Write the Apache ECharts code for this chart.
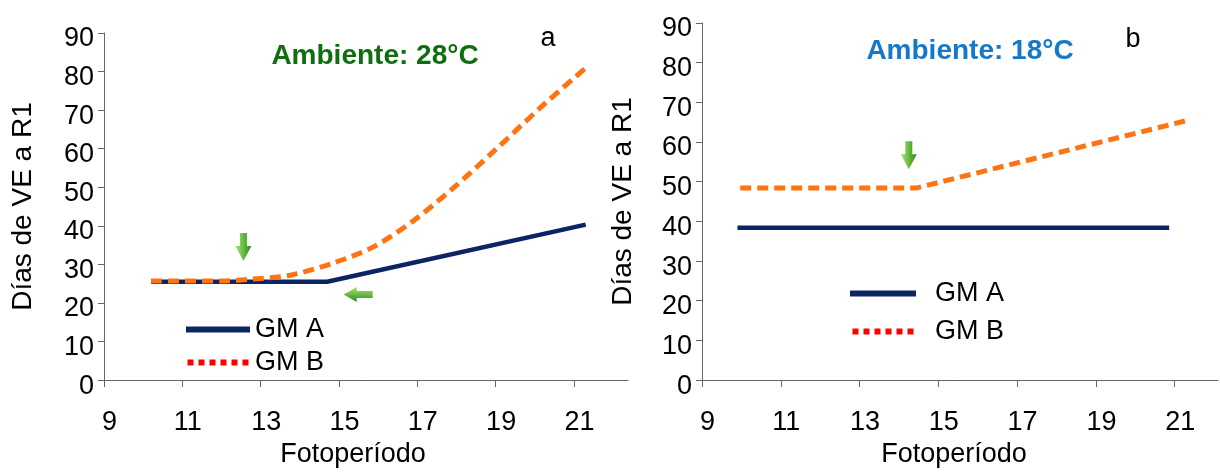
<!DOCTYPE html>
<html>
<head>
<meta charset="utf-8">
<script src="https://cdn.jsdelivr.net/npm/echarts@6/dist/echarts.min.js"></script>
<style>
  html, body { margin: 0; padding: 0; background: #fff; }
  #chart { width: 1220px; height: 473px; }
</style>
</head>
<body>
<div id="chart"></div>
<script>
// panel a (28 °C)
const gmaA_x = [10.2, 14.7, 21.3];
const gmaA_y = [25.5, 25.5, 40.3];
const gmbA_x = [10.2, 12.0, 12.82, 13.76, 14.87, 15.89, 16.91, 17.93, 18.95, 20.15, 21.34];
const gmbA_y = [25.7, 25.7, 26.2, 27.2, 30.4, 34.6, 41.4, 49.9, 59.3, 70.7, 81.3];

// panel b (18 °C)
const gmaB_x = [9.9, 20.86];
const gmaB_y = [38.4, 38.4];
const gmbB_x = [9.97, 14.44, 21.26];
const gmbB_y = [48.4, 48.4, 65.3];

// arrows (data coords)
const arrowDownA = [12.56, 34.5];
const arrowLeftA = [15.49, 22.2];
const arrowDownB = [14.25, 56.7];

const xTicks = [9, 11, 13, 15, 17, 19, 21];
const seriesNames = ['GM A', 'GM B'];
const titles = ['Ambiente: 28°C', 'Ambiente: 18°C'];
const panelTags = ['a', 'b'];

const font = 'Liberation Sans, Arial, sans-serif';
const navy = '#0b2462';
const orange = '#ff7312';
const axisGray = '#666';

const pairs = (xs, ys) => xs.map((x, i) => [x, ys[i]]);

const downArrow = 'path://M4.5,0 L11.5,0 L11.5,13 L16,13 L8,28 L0,13 L4.5,13 Z';
const leftArrow = 'path://M0,7.5 L13,0 L13,4 L29,4 L29,11 L13,11 L13,15 Z';
const greenH = {
    type: 'linear', x: 0, y: 0, x2: 1, y2: 0,
    colorStops: [{ offset: 0, color: '#a6e876' }, { offset: 1, color: '#2c8c12' }],
};
const greenV = {
    type: 'linear', x: 0, y: 0, x2: 0, y2: 1,
    colorStops: [{ offset: 0, color: '#a6e876' }, { offset: 1, color: '#2c8c12' }],
};

const dottedIcon = 'path://M0,0h6v6h-6z M11,0h6v6h-6z M22,0h6v6h-6z M33,0h6v6h-6z M44,0h6v6h-6z M55,0h6v6h-6z';
const legendData = [
    { name: seriesNames[0], icon: 'rect', itemStyle: { color: navy, borderWidth: 0 } },
    { name: seriesNames[1], icon: dottedIcon, itemStyle: { color: '#ff0000', borderWidth: 0 } },
];

const xAxisBase = (gridIndex, max, namePad) => ({
    type: 'value',
    gridIndex,
    min: 9,
    max,
    name: 'Fotoperíodo',
    nameLocation: 'middle',
    nameGap: 59,
    nameTextStyle: { color: '#000', fontFamily: font, fontSize: 27, padding: namePad },
    axisLine: { onZero: false, lineStyle: { color: axisGray, width: 1 } },
    axisTick: { customValues: xTicks, length: 7, lineStyle: { color: axisGray } },
    axisLabel: {
        customValues: xTicks, color: '#000', fontFamily: font, fontSize: 27,
        margin: 29, padding: [0, 0, 0, 11],
    },
    splitLine: { show: false },
});

const yAxisBase = (gridIndex, nameGap) => ({
    type: 'value',
    gridIndex,
    min: 0,
    max: 90,
    interval: 10,
    name: 'Días de VE a R1',
    nameLocation: 'middle',
    nameGap,
    nameTextStyle: { color: '#000', fontFamily: font, fontSize: 28 },
    axisLine: { show: true, lineStyle: { color: axisGray, width: 1 } },
    axisTick: { show: true, length: 6, lineStyle: { color: axisGray } },
    axisLabel: {
        color: '#000', fontFamily: font, fontSize: 27, margin: 10,
        verticalAlign: 'top', lineHeight: 12,
    },
    splitLine: { show: false },
});

const lineSeries = (name, idx, data, color, dashed, extra) => Object.assign({
    name,
    type: 'line',
    xAxisIndex: idx,
    yAxisIndex: idx,
    data,
    symbol: 'none',
    lineStyle: { color, width: dashed ? 5 : 4.5, type: dashed ? [11, 6] : 'solid', cap: 'butt' },
    itemStyle: { color },
    z: dashed ? 3 : 2,
}, extra);

const arrowPoint = (coord, symbol, size, color) => ({
    coord, symbol, symbolSize: size, itemStyle: { color }, label: { show: false },
});

const chart = echarts.init(document.getElementById('chart'), null, { renderer: 'canvas' });
chart.setOption({
    animation: false,
    backgroundColor: '#fff',
    textStyle: { fontFamily: font },
    grid: [
        { left: 104, right: 592, top: 33, bottom: 87 },
        { left: 702, right: 2, top: 23, bottom: 90 },
    ],
    xAxis: [xAxisBase(0, 22.38, [0, 26, 0, 0]), xAxisBase(1, 22.1, [0, 12, 0, 0])],
    yAxis: [yAxisBase(0, 67), yAxisBase(1, 65)],
    legend: [
        {
            left: 181, top: 311, orient: 'vertical', itemWidth: 64, itemHeight: 6, itemGap: 6,
            selectedMode: false, data: legendData,
            textStyle: { color: '#000', fontFamily: font, fontSize: 27, lineHeight: 27 },
        },
        {
            left: 845, top: 275, orient: 'vertical', itemWidth: 66, itemHeight: 6, itemGap: 11,
            selectedMode: false, data: legendData,
            textStyle: { color: '#000', fontFamily: font, fontSize: 27, lineHeight: 27, padding: [0, 0, 0, 14] },
        },
    ],
    graphic: [
        { type: 'text', x: 375, y: 56, style: { text: titles[0], fill: '#0f6e0f', font: 'bold 28px ' + font, textAlign: 'center', textVerticalAlign: 'middle' } },
        { type: 'text', x: 970, y: 51, style: { text: titles[1], fill: '#1479c8', font: 'bold 28px ' + font, textAlign: 'center', textVerticalAlign: 'middle' } },
        { type: 'text', x: 548, y: 39, style: { text: panelTags[0], fill: '#000', font: '27px ' + font, textAlign: 'center', textVerticalAlign: 'middle' } },
        { type: 'text', x: 1133, y: 40, style: { text: panelTags[1], fill: '#000', font: '27px ' + font, textAlign: 'center', textVerticalAlign: 'middle' } },
    ],
    series: [
        lineSeries(seriesNames[0], 0, pairs(gmaA_x, gmaA_y), navy, false, {
            markPoint: {
                silent: true,
                data: [
                    arrowPoint(arrowDownA, downArrow, [16, 28], greenH),
                    arrowPoint(arrowLeftA, leftArrow, [29, 15], greenV),
                ],
            },
        }),
        lineSeries(seriesNames[1], 0, pairs(gmbA_x, gmbA_y), orange, true, { smooth: 0.3 }),
        lineSeries(seriesNames[0], 1, pairs(gmaB_x, gmaB_y), navy, false, {
            markPoint: {
                silent: true,
                data: [arrowPoint(arrowDownB, downArrow, [16, 28], greenH)],
            },
        }),
        lineSeries(seriesNames[1], 1, pairs(gmbB_x, gmbB_y), orange, true),
    ],
});
</script>
</body>
</html>
